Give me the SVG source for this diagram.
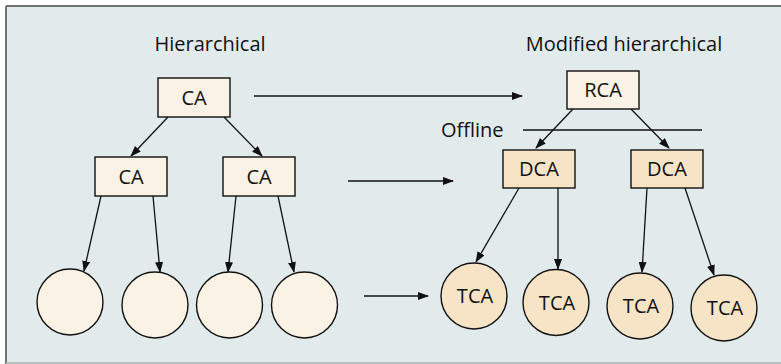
<svg xmlns="http://www.w3.org/2000/svg" width="781" height="364" viewBox="0 0 781 364">
<style>
.t{font-family:"Open Sans","Noto Sans","Liberation Sans",sans-serif;font-size:20px;fill:#111;}
.m{text-anchor:middle;}
.b1{fill:#faf2e4;stroke:#111;stroke-width:1.4;}
.b2{fill:#f7e4c6;stroke:#111;stroke-width:1.4;}
.c{stroke:#111;stroke-width:1.3;fill:none;}
.a{marker-end:url(#ah);}
</style>
<defs>
<marker id="ah" markerUnits="userSpaceOnUse" markerWidth="11" markerHeight="8" refX="10" refY="4" orient="auto">
<path d="M0,0 L11,4 L0,8 z" fill="#111"/>
</marker>
</defs>
<rect x="6" y="6" width="780" height="356" fill="#e2ebeb"/>
<line x1="6" y1="6" x2="781" y2="6" stroke="#6f7472" stroke-width="2"/>
<line x1="6" y1="6" x2="6" y2="364" stroke="#6f7472" stroke-width="2"/>
<line x1="6" y1="363" x2="781" y2="363" stroke="#b4bcbc" stroke-width="2"/>
<text class="t m" x="210" y="51">Hierarchical</text>
<text class="t m" x="624" y="51">Modified hierarchical</text>
<text class="t" x="441" y="137">Offline</text>
<g id="connectors">
<line class="c a" x1="254" y1="96" x2="522" y2="96"/>
<line class="c a" x1="348" y1="181" x2="453" y2="181"/>
<line class="c a" x1="364" y1="296" x2="428" y2="296"/>
<line class="c" x1="523" y1="130" x2="702" y2="130"/>
<line class="c a" x1="168" y1="117" x2="131" y2="156"/>
<line class="c a" x1="224" y1="117" x2="262" y2="156"/>
<line class="c a" x1="101" y1="196" x2="84" y2="271"/>
<line class="c a" x1="153" y1="196" x2="160" y2="272"/>
<line class="c a" x1="236" y1="196" x2="228" y2="272"/>
<line class="c a" x1="278" y1="196" x2="294" y2="272"/>
<line class="c a" x1="573" y1="109" x2="536" y2="148"/>
<line class="c a" x1="631" y1="109" x2="669" y2="148"/>
<line class="c a" x1="519" y1="188" x2="476" y2="262"/>
<line class="c a" x1="558" y1="188" x2="558" y2="269"/>
<line class="c a" x1="647" y1="188" x2="642" y2="272"/>
<line class="c a" x1="685" y1="188" x2="714" y2="275"/>
</g>
<g id="ca-root"><rect class="b1" x="158" y="78" width="72" height="39"/><text class="t m" x="194" y="104.5">CA</text></g>
<g id="ca-left"><rect class="b1" x="95" y="157" width="72" height="39"/><text class="t m" x="131" y="183.5">CA</text></g>
<g id="ca-right"><rect class="b1" x="223" y="157" width="72" height="39"/><text class="t m" x="259" y="183.5">CA</text></g>
<g id="leaf1"><circle class="b1" cx="70" cy="302" r="33"/></g>
<g id="leaf2"><circle class="b1" cx="155" cy="305" r="33"/></g>
<g id="leaf3"><circle class="b1" cx="229.5" cy="305" r="33"/></g>
<g id="leaf4"><circle class="b1" cx="304.5" cy="305" r="33"/></g>
<g id="rca"><rect class="b1" x="567" y="71" width="72" height="38"/><text class="t m" x="603" y="97">RCA</text></g>
<g id="dca-left"><rect class="b2" x="503" y="150" width="72" height="38"/><text class="t m" x="539" y="176">DCA</text></g>
<g id="dca-right"><rect class="b2" x="631" y="150" width="72" height="38"/><text class="t m" x="667" y="176">DCA</text></g>
<g id="tca1"><circle class="b2" cx="474" cy="296" r="33"/><text class="t m" x="475" y="303">TCA</text></g>
<g id="tca2"><circle class="b2" cx="556" cy="302.5" r="33"/><text class="t m" x="557" y="309.5">TCA</text></g>
<g id="tca3"><circle class="b2" cx="640" cy="306" r="33"/><text class="t m" x="641" y="313">TCA</text></g>
<g id="tca4"><circle class="b2" cx="724" cy="308" r="33"/><text class="t m" x="725" y="315">TCA</text></g>
</svg>
